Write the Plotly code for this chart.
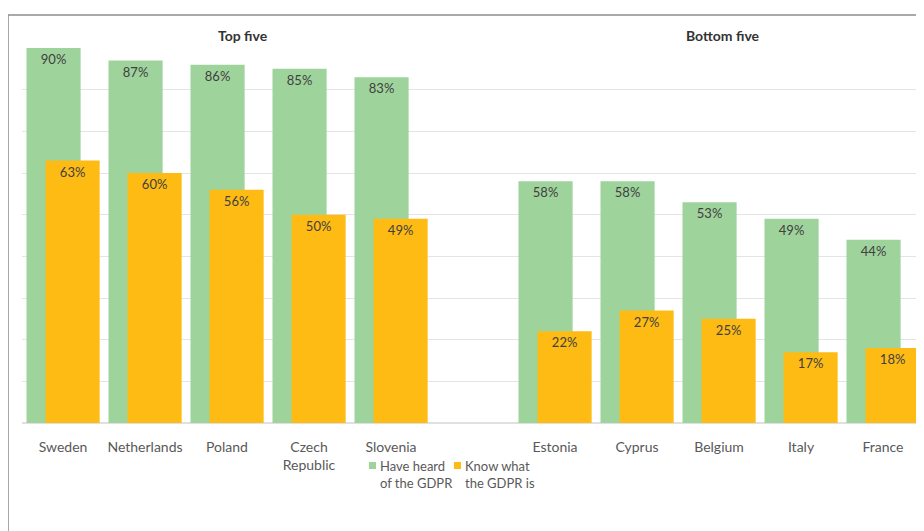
import plotly.graph_objects as go

countries = ["Sweden", "Netherlands", "Poland", "Czech<br>Republic", "Slovenia",
             "Estonia", "Cyprus", "Belgium", "Italy", "France"]
slots = [0, 1, 2, 3, 4, 6, 7, 8, 9, 10]
heard = [90, 87, 86, 85, 83, 58, 58, 53, 49, 44]
know = [63, 60, 56, 50, 49, 22, 27, 25, 17, 18]
series_names = ["Have heard<br>of the GDPR", "Know what<br>the GDPR is"]
group_titles = ["Top five", "Bottom five"]
group_centers = [2.2, 8.05]

GREEN = "#9fd39c"
ORANGE = "#fdbb14"
FONT = "Lato"
TXT = "#404040"
LEG = "#595959"

fig = go.Figure()
fig.add_trace(go.Bar(
    x=slots, y=heard, name=series_names[0], showlegend=False,
    marker=dict(color=GREEN, line=dict(width=0)),
    width=0.66, offset=-0.445,
    text=[f"{v}%" for v in heard], textposition="inside", insidetextanchor="end",
    textangle=0, constraintext="none",
    textfont=dict(family=FONT, size=13, color=TXT),
))
fig.add_trace(go.Bar(
    x=slots, y=know, name=series_names[1], showlegend=False,
    marker=dict(color=ORANGE, line=dict(width=0)),
    width=0.66, offset=-0.213,
    text=[f"{v}%" for v in know], textposition="inside", insidetextanchor="end",
    textangle=0, constraintext="none",
    textfont=dict(family=FONT, size=13, color=TXT),
))

for t, c in zip(group_titles, group_centers):
    fig.add_annotation(x=c, y=1, xref="x", yref="paper", yanchor="bottom", yshift=2,
                       text=f"<b>{t}</b>", showarrow=False,
                       font=dict(family=FONT, size=14, color="#333333"))

# chart frame (top and left edges)
fig.add_shape(type="line", xref="paper", yref="paper", x0=-0.0155, x1=1.01, y0=1.088, y1=1.088,
              line=dict(color="#8c8c8c", width=1.5))
fig.add_shape(type="line", xref="paper", yref="paper", x0=-0.0155, x1=-0.0155, y0=1.088, y1=-0.35,
              line=dict(color="#8c8c8c", width=1.5))

# legend (drawn manually to match the compact Excel-style legend)
leg_items = [(series_names[0], GREEN, 0.3847, 0.3947), (series_names[1], ORANGE, 0.4789, 0.4889)]
for name, col, mx, tx in leg_items:
    fig.add_shape(type="rect", xref="paper", yref="paper", x0=mx, x1=mx + 0.0078,
                  y0=-0.1227, y1=-0.104, fillcolor=col, line=dict(width=0))
    fig.add_annotation(x=tx, y=-0.088, xref="paper", yref="paper", xanchor="left", yanchor="top",
                       align="left", text=name, showarrow=False,
                       font=dict(family=FONT, size=13, color=LEG))

fig.update_layout(
    width=916, height=523,
    margin=dict(l=14, r=0, t=40, b=108),
    barmode="overlay",
    paper_bgcolor="white", plot_bgcolor="white",
    font=dict(family=FONT, size=14, color=LEG),
    showlegend=False,
    xaxis=dict(range=[-0.5, 10.5], tickvals=slots, ticktext=countries,
               showgrid=False, zeroline=False, showline=False, ticks="",
               ticklabelstandoff=14,
               tickfont=dict(family=FONT, size=14, color=LEG)),
    yaxis=dict(range=[0, 90], dtick=10, showticklabels=False, showgrid=True,
               gridcolor="#e4e4e4", gridwidth=1, zeroline=True, zerolinecolor="#e0e0e0",
               showline=False, ticks=""),
)

fig.write_html("out.html")
